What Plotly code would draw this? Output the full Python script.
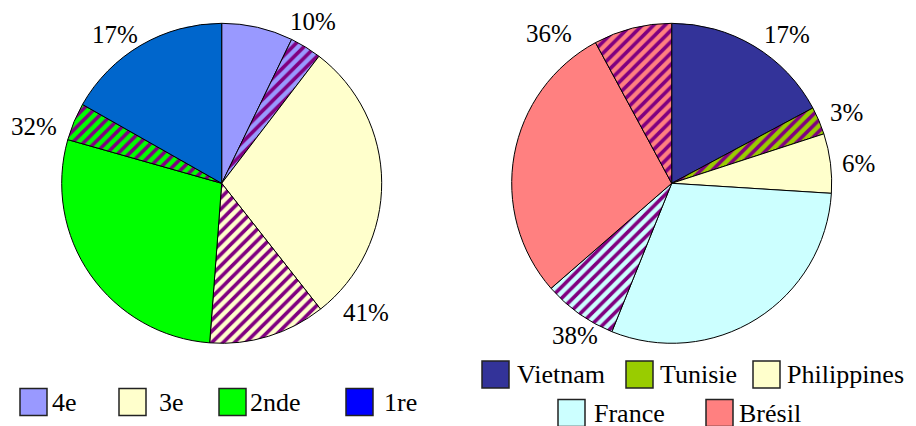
import plotly.graph_objects as go

W, H = 916, 426
FONT = "Liberation Serif"
PURPLE = "#800080"

# ---------------- data ----------------
# Left pie: classes, each split into a plain part and a hatched part (percent)
left_labels = ["4e", "4e*", "3e", "3e*", "2nde", "2nde*", "1re"]
left_values = [7.2, 3.2, 29.0, 11.8, 28.2, 3.8, 16.8]
left_colors = ["#9999FF", "#9999FF", "#FFFFCC", "#FFFFCC", "#00FF00", "#00FF00", "#0066CC"]
left_hatch = ["", "/", "", "/", "", "/", ""]
left_groups = ["4e", "4e", "3e", "3e", "2nde", "2nde", "1re"]

# Right pie: countries
right_labels = ["Vietnam", "Tunisie", "Philippines", "France", "France*", "Brésil", "Brésil*"]
right_values = [17.2, 2.8, 6.0, 30.1, 7.5, 28.5, 7.9]
right_colors = ["#333399", "#99CC00", "#FFFFCC", "#CCFFFF", "#CCFFFF", "#FF8080", "#FF8080"]
right_hatch = ["", "/", "", "", "/", "", "/"]
right_groups = ["Vietnam", "Tunisie", "Philippines", "France", "France", "Brésil", "Brésil"]

# legends
left_legend_names = ["4e", "3e", "2nde", "1re"]
left_legend_colors = ["#9999FF", "#FFFFCC", "#00FF00", "#0000FF"]
right_legend_names = ["Vietnam", "Tunisie", "Philippines", "France", "Brésil"]
right_legend_colors = ["#333399", "#99CC00", "#FFFFCC", "#CCFFFF", "#FF8080"]

# ---------------- layout helpers (pixel positions) ----------------
def px(x):
    return x / W

def py(y):
    return 1 - y / H

R = 160
left_c = (221.7, 183.3)
right_c = (671.7, 183.3)

def domain(c, r):
    return dict(x=[px(c[0] - r), px(c[0] + r)], y=[py(c[1] + r), py(c[1] - r)])

def group_totals(groups, values):
    tot = {}
    for g, v in zip(groups, values):
        tot[g] = tot.get(g, 0) + v
    return tot

fig = go.Figure()
for labels, values, colors, hatch, c in [
    (left_labels, left_values, left_colors, left_hatch, left_c),
    (right_labels, right_values, right_colors, right_hatch, right_c),
]:
    fig.add_trace(go.Pie(
        labels=labels, values=values, sort=False, direction="clockwise", rotation=0,
        textinfo="none", hoverinfo="label+percent", showlegend=False,
        domain=domain(c, R),
        marker=dict(colors=colors, line=dict(color="black", width=1),
                    pattern=dict(shape=hatch, fgcolor=PURPLE, bgcolor=colors, size=8, solidity=0.45)),
    ))

annotations = []
shapes = []

# percentage labels (text from data totals)
lt = group_totals(left_groups, left_values)
rt = group_totals(right_groups, right_values)
left_label_pos = {"4e": (313, 22), "3e": (366, 312), "2nde": (34, 126), "1re": (115, 34)}
right_label_pos = {"Vietnam": (787, 34), "Tunisie": (846, 112), "Philippines": (858, 163),
                   "France": (575, 335), "Brésil": (549, 33)}
for tot, pos in [(lt, left_label_pos), (rt, right_label_pos)]:
    for g, (x, y) in pos.items():
        annotations.append(dict(x=px(x), y=py(y), xref="paper", yref="paper", xanchor="center",
                                yanchor="middle", text=f"{round(tot[g])}%", showarrow=False,
                                font=dict(family=FONT, size=25, color="black")))

# legends (squares + names)
SQ = 27
left_legend_pos = [(20, 402, 50), (119, 402, 157), (219, 402, 248), (346, 402, 382)]
right_legend_pos = [(482, 374.5, 515), (626, 374.5, 658), (753, 374.5, 785),
                    (558, 413, 592), (706, 413, 737)]
for names, cols, poss in [(left_legend_names, left_legend_colors, left_legend_pos),
                          (right_legend_names, right_legend_colors, right_legend_pos)]:
    for name, col, (sx, cy, tx) in zip(names, cols, poss):
        shapes.append(dict(type="rect", xref="paper", yref="paper",
                           x0=px(sx), x1=px(sx + SQ), y0=py(cy + SQ / 2), y1=py(cy - SQ / 2),
                           fillcolor=col, line=dict(color="#222222", width=1.5)))
        annotations.append(dict(x=px(tx), y=py(cy), xref="paper", yref="paper", xanchor="left",
                                yanchor="middle", text=name, showarrow=False,
                                font=dict(family=FONT, size=26, color="black")))

fig.update_layout(width=W, height=H, margin=dict(l=0, r=0, t=0, b=0),
                  paper_bgcolor="white", plot_bgcolor="white", font=dict(family=FONT),
                  annotations=annotations, shapes=shapes)

fig.write_html("out.html", config={"displayModeBar": False},
               post_script="document.body.style.margin='0';document.body.style.overflow='hidden';")
